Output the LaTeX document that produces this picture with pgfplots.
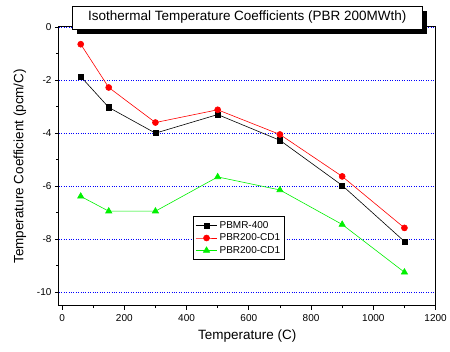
\documentclass[border=0pt]{standalone}
\usepackage{fontspec}
\setmainfont{Liberation Sans}
\usepackage{pgfplots}
\pgfplotsset{compat=1.18}
\usetikzlibrary{shadows}
\definecolor{mygreen}{RGB}{0,240,0}
\begin{document}
\begin{tikzpicture}
\begin{axis}[
  scale only axis,
  width=377pt, height=279pt,
  xmin=-10, xmax=1200, ymin=-10.5, ymax=0,
  xtick={0,200,...,1200}, ytick={-10,-8,...,0},
  minor x tick num=1, minor y tick num=1,
  tick pos=left, tick align=outside,
  major tick length=4pt, minor tick length=2.5pt,
  axis line style={line width=1pt},
  every tick/.style={line width=0.8pt, black},
  /pgf/number format/assume math mode=true,
  /pgf/number format/set thousands separator={},
  ticklabel style={font=\fontsize{10}{12}\selectfont},
  xticklabel style={yshift=-1.5pt},
  yticklabel style={/pgf/number format/fixed},
  ymajorgrids,
  major grid style={blue, dotted, line width=0.6pt},
  xlabel={Temperature (C)},
  ylabel={Temperature Coefficient (pcm/C)},
  label style={font=\fontsize{13.5}{16}\selectfont},
  xlabel style={yshift=-1pt},
  ylabel style={yshift=4pt},
  title={Isothermal Temperature Coefficients (PBR 200MWth)},
  title style={font=\fontsize{13.5}{16}\selectfont, at={(0.5,1)}, anchor=center, yshift=3.5pt,
    draw=black, line width=0.6pt, fill=white, minimum width=350pt, minimum height=23pt, inner sep=0pt,
    drop shadow={fill=black, opacity=1, shadow xshift=5pt, shadow yshift=-5pt}},
  legend style={at={(0.355,0.32)}, anchor=north west, draw=black, line width=0.6pt,
    font=\fontsize{10}{12}\selectfont, row sep=0pt, inner sep=2.5pt},
  legend cell align=left,
  legend image code/.code={
    \draw[mark repeat=2, mark phase=2] plot coordinates {(0cm,0cm) (0.38cm,0cm) (0.76cm,0cm)};},
]
\addplot[black, line width=0.6pt, mark=square*, mark size=2.6pt, mark options={solid}]
  coordinates {(60,-1.87) (150,-3.03) (300,-4.0) (500,-3.3) (700,-4.27) (900,-5.97) (1100,-8.08)};
\addlegendentry{PBMR-400}
\addplot[red, line width=0.6pt, mark=*, mark size=3pt]
  coordinates {(60,-0.65) (150,-2.28) (300,-3.6) (500,-3.12) (700,-4.05) (900,-5.63) (1100,-7.57)};
\addlegendentry{PBR200-CD1}
\addplot[mygreen, line width=0.6pt, mark=triangle*, mark size=3.6pt]
  coordinates {(60,-6.38) (150,-6.94) (300,-6.94) (500,-5.65) (700,-6.14) (900,-7.44) (1100,-9.24)};
\addlegendentry{PBR200-CD1}
\end{axis}
\path (current axis.south west) +(-59pt,-46pt) (current axis.north east) +(14pt,27pt);
\end{tikzpicture}
\end{document}
